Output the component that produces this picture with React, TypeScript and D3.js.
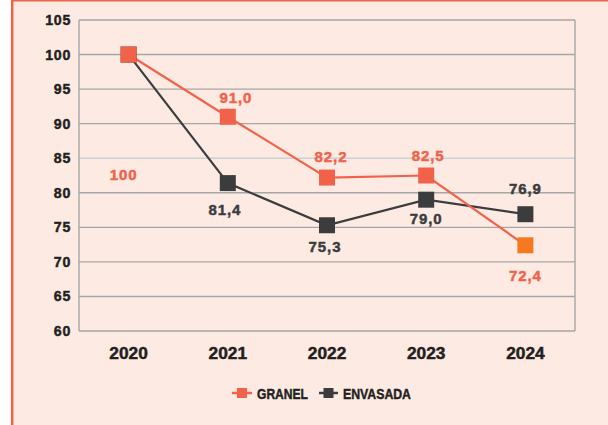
import React from "react";
import * as d3 from "d3";

const years = ["2020", "2021", "2022", "2023", "2024"];
const granel = [100, 91.0, 82.2, 82.5, 72.4];
const envasada = [100, 81.4, 75.3, 79.0, 76.9];
const granelLabels = ["100", "91,0", "82,2", "82,5", "72,4"];
const envasadaLabels = ["", "81,4", "75,3", "79,0", "76,9"];
const yTicks = [60, 65, 70, 75, 80, 85, 90, 95, 100, 105];
const seriesNames = ["GRANEL", "ENVASADA"];

// label placement (layout, not data)
const granelOffsets: [number, number][] = [[-5, 120], [8, -19], [4, -21], [2, -20], [0, 30]];
const envasadaOffsets: [number, number][] = [[0, 0], [-3, 26], [-2, 21], [0, 19], [0, -26]];

const W = 608, H = 425;
const RED = "#f26149";
const DARK = "#3b3c3e";
const ORANGE = "#f47920";
const BG = "#fdebe3";
const GRID = "#a6a6a6";
const INK = "#231f20";
const FONT = "'Liberation Sans', Arial, sans-serif";

export default function App() {
  const x = d3.scalePoint<string>().domain(years).range([79, 575]).padding(0.5);
  const y = d3.scaleLinear().domain([60, 105]).range([331, 20]);
  const line = d3.line<number>().x((_, i) => x(years[i])!).y((d) => y(d));
  const ms = 16;

  const heavy = (c: string) => ({ stroke: c, strokeWidth: 0.45, paintOrder: "stroke" as const });

  return (
    <svg width={W} height={H} style={{ position: "absolute", left: 0, top: 0 }}>
      <rect x={0} y={0} width={W} height={H} fill="#ffffff" />
      <rect x={13} y={1} width={W - 13} height={H - 1} fill={BG} />
      <line x1={12.2} x2={12.2} y1={0} y2={H} stroke={RED} strokeWidth={2.5} />
      <line x1={12} x2={W} y1={0.8} y2={0.8} stroke={RED} strokeWidth={1.6} />

      {yTicks.map((t) => (
        <g key={t}>
          <line x1={79} x2={575} y1={y(t)} y2={y(t)} stroke={t === 85 ? "#c8d2d2" : GRID} strokeWidth={1.4} />
          <text x={71} y={y(t)} textAnchor="end" dominantBaseline="central" fontFamily={FONT} fontWeight="bold" fontSize={14.2} letterSpacing={0.7} fill={INK} {...heavy(INK)}>{t}</text>
        </g>
      ))}
      <line x1={79} x2={79} y1={20} y2={331} stroke={GRID} strokeWidth={1.4} />
      <line x1={575} x2={575} y1={20} y2={331} stroke={GRID} strokeWidth={1.4} />

      {years.map((yr) => (
        <text key={yr} x={x(yr)} y={353} textAnchor="middle" dominantBaseline="central" fontFamily={FONT} fontWeight="bold" fontSize={16} fill={INK} textLength={38.5} lengthAdjust="spacingAndGlyphs" {...heavy(INK)}>{yr}</text>
      ))}

      <path d={line(envasada)!} fill="none" stroke={DARK} strokeWidth={2.2} />
      <path d={line(granel)!} fill="none" stroke={RED} strokeWidth={2.2} />
      {envasada.map((v, i) => (
        <rect key={"e" + i} x={x(years[i])! - ms / 2} y={y(v) - ms / 2} width={ms} height={ms} fill={DARK} />
      ))}
      {granel.map((v, i) => (
        <rect key={"g" + i} x={x(years[i])! - ms / 2} y={y(v) - ms / 2} width={ms} height={ms} fill={i === granel.length - 1 ? ORANGE : RED} />
      ))}

      {granel.map((v, i) => (
        <text key={"gl" + i} x={x(years[i])! + granelOffsets[i][0]} y={y(v) + granelOffsets[i][1]} textAnchor="middle" dominantBaseline="central" fontFamily={FONT} fontWeight="bold" fontSize={15} letterSpacing={0.9} fill={RED} {...heavy(RED)}>{granelLabels[i]}</text>
      ))}
      {envasada.map((v, i) => envasadaLabels[i] ? (
        <text key={"el" + i} x={x(years[i])! + envasadaOffsets[i][0]} y={y(v) + envasadaOffsets[i][1]} textAnchor="middle" dominantBaseline="central" fontFamily={FONT} fontWeight="bold" fontSize={15} letterSpacing={0.9} fill={DARK} {...heavy(DARK)}>{envasadaLabels[i]}</text>
      ) : null)}

      {/* legend */}
      <g>
        <line x1={232} x2={252} y1={393} y2={393} stroke={RED} strokeWidth={2.5} />
        <rect x={237} y={388} width={10} height={10} fill={RED} />
        <text x={257} y={393.5} dominantBaseline="central" fontFamily={FONT} fontWeight="bold" fontSize={15.5} fill={INK} textLength={51} lengthAdjust="spacingAndGlyphs" {...heavy(INK)}>{seriesNames[0]}</text>
        <line x1={319} x2={338} y1={393} y2={393} stroke={DARK} strokeWidth={2.5} />
        <rect x={323.5} y={388} width={10} height={10} fill={DARK} />
        <text x={343} y={393.5} dominantBaseline="central" fontFamily={FONT} fontWeight="bold" fontSize={15.5} fill={INK} textLength={68} lengthAdjust="spacingAndGlyphs" {...heavy(INK)}>{seriesNames[1]}</text>
      </g>
    </svg>
  );
}
